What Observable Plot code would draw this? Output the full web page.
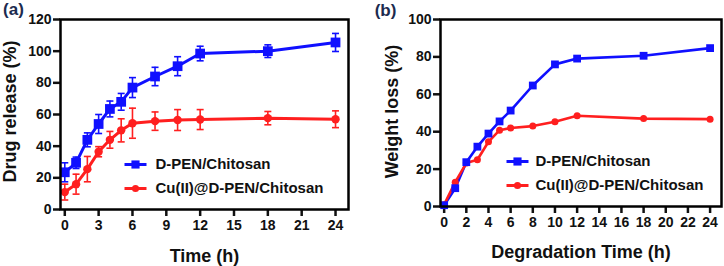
<!DOCTYPE html>
<html><head><meta charset="utf-8">
<script src="https://cdn.jsdelivr.net/npm/d3@7"></script>
<script src="https://cdn.jsdelivr.net/npm/@observablehq/plot@0.6"></script>
<style>
body{margin:0;background:#fff;}
#wrap{display:flex;width:724px;height:266px;overflow:hidden;}
#wrap svg{display:block;}
</style></head><body><div id="wrap"></div>
<script>
// ---- data ----
const time = [0, 1, 2, 3, 4, 5, 6, 8, 10, 12, 18, 24];
const seriesNames = ["D-PEN/Chitosan", "Cu(II)@D-PEN/Chitosan"];
// (a) drug release (%), mean and error
const releaseDPEN    = [23.5, 29.5, 44, 54, 63.5, 68, 77, 84, 90.5, 98.5, 100, 105.5];
const releaseDPENErr = [6, 3.6, 4.4, 6, 5, 5.3, 6.3, 5.8, 6, 4.6, 4, 5.7];
const releaseCu      = [11, 16, 25.5, 36.5, 44, 50, 54.5, 55.8, 56.5, 56.8, 57.7, 57];
const releaseCuErr   = [5, 6.3, 8, 3.2, 5.3, 7.3, 9.5, 5.8, 6.6, 6.3, 4.2, 5.3];
// (b) weight loss (%)
const lossDPEN = [0.7, 9.8, 23.7, 32, 39, 45.5, 51.3, 64.7, 76, 79.1, 80.6, 84.7];
const lossCu   = [1, 13, 23.2, 25, 34.6, 40.8, 42, 43, 45.3, 48.5, 47, 46.7];
// ticks / labels
const xTicksA = [0, 3, 6, 9, 12, 15, 18, 21, 24];
const xTicksB = [0, 2, 4, 6, 8, 10, 12, 14, 16, 18, 20, 22, 24];
const yTicksA = [0, 20, 40, 60, 80, 100, 120];
const yTicksB = [0, 20, 40, 60, 80, 100];
const titlesA = {x: "Time (h)", y: "Drug release (%)", panel: "(a)"};
const titlesB = {x: "Degradation Time (h)", y: "Weight loss (%)", panel: "(b)"};

// ---- styling ----
const BLUE = "#1010ff", RED = "#ff1f1f";
const FONT = "'Liberation Sans', Arial, Helvetica, sans-serif";
const capSym = {draw(ctx) { ctx.moveTo(-3.5, 0); ctx.lineTo(3.5, 0); }};
const legLine = {draw(ctx) { ctx.moveTo(-11, 0); ctx.lineTo(11, 0); }};

const rowsA = [
  ...time.map((t, i) => ({t, v: releaseDPEN[i], e: releaseDPENErr[i], s: seriesNames[0]})),
  ...time.map((t, i) => ({t, v: releaseCu[i], e: releaseCuErr[i], s: seriesNames[1]}))
];
const rowsB = [
  ...time.map((t, i) => ({t, v: lossDPEN[i], s: seriesNames[0]})),
  ...time.map((t, i) => ({t, v: lossCu[i], s: seriesNames[1]}))
];
const colorOf = s => s === seriesNames[0] ? BLUE : RED;

function legendMarks(lx, ly0, ly1, tx, rSq, rCi) {
  const items = [{s: seriesNames[0], dy: ly0, sym: "square", r: rSq}, {s: seriesNames[1], dy: ly1, sym: "circle", r: rCi}];
  const out = [];
  for (const it of items) {
    out.push(Plot.dot([it], {frameAnchor: "top-left", dx: lx, dy: it.dy, symbol: legLine, stroke: colorOf(it.s), strokeWidth: 3, fill: "none", r: 5}));
    out.push(Plot.dot([it], {frameAnchor: "top-left", dx: lx, dy: it.dy, symbol: it.sym, fill: colorOf(it.s), stroke: "none", r: it.r}));
    out.push(Plot.text([it], {frameAnchor: "top-left", dx: tx, dy: it.dy, text: "s", textAnchor: "start", lineAnchor: "middle", fontSize: 15, fill: "#111"}));
  }
  return out;
}

const baseStyle = {fontFamily: FONT, fontWeight: "bold", fontSize: "14px", color: "#111", background: "white", overflow: "visible"};

const plotA = Plot.plot({
  width: 362, height: 266,
  marginLeft: 60, marginRight: 14, marginTop: 19, marginBottom: 57,
  x: {domain: [-0.38, 25.15]},
  y: {domain: [0, 120]},
  style: baseStyle,
  marks: [
    Plot.axisX({ticks: xTicksA, tickSize: 7, tickPadding: 4, strokeWidth: 2.5, label: null}),
    Plot.axisY({ticks: yTicksA, tickSize: 7, tickPadding: 2, strokeWidth: 2.5, label: null}),
    Plot.ruleX(rowsA, {x: "t", y1: d => d.v - d.e, y2: d => d.v + d.e, stroke: d => colorOf(d.s), strokeWidth: 1.6}),
    Plot.dot(rowsA, {x: "t", y: d => d.v + d.e, symbol: capSym, stroke: d => colorOf(d.s), strokeWidth: 1.6, fill: "none"}),
    Plot.dot(rowsA, {x: "t", y: d => d.v - d.e, symbol: capSym, stroke: d => colorOf(d.s), strokeWidth: 1.6, fill: "none"}),
    Plot.line(rowsA, {x: "t", y: "v", z: "s", stroke: d => colorOf(d.s), strokeWidth: 3}),
    Plot.dot(rowsA.filter(d => d.s === seriesNames[0]), {x: "t", y: "v", symbol: "square", r: 5.5, fill: BLUE}),
    Plot.dot(rowsA.filter(d => d.s === seriesNames[1]), {x: "t", y: "v", symbol: "circle", r: 4.2, fill: RED}),
    Plot.frame({stroke: "#000", strokeWidth: 2.5}),
    ...legendMarks(75, 145, 169, 95, 4.6, 3.6),
    Plot.text([titlesA.x], {text: d => d, frameAnchor: "bottom", dy: 47, fontSize: 18, lineAnchor: "middle", textAnchor: "middle"}),
    Plot.text([titlesA.y], {text: d => d, frameAnchor: "left", dx: -50, dy: -3, rotate: -90, fontSize: 18, lineAnchor: "middle", textAnchor: "middle"}),
    Plot.text([titlesA.panel], {text: d => d, frameAnchor: "top-left", dx: -47, dy: -10, fontSize: 17, lineAnchor: "middle", textAnchor: "middle", fill: "#1c2b4f"})
  ]
});

const plotB = Plot.plot({
  width: 362, height: 266,
  marginLeft: 78, marginRight: 3, marginTop: 19, marginBottom: 60,
  x: {domain: [-0.33, 25.03]},
  y: {domain: [0, 100]},
  style: baseStyle,
  marks: [
    Plot.axisX({ticks: xTicksB, tickSize: 7, tickPadding: 4, strokeWidth: 2.5, label: null}),
    Plot.axisY({ticks: yTicksB, tickSize: 7, tickPadding: 2, strokeWidth: 2.5, label: null}),
    Plot.line(rowsB, {x: "t", y: "v", z: "s", stroke: d => colorOf(d.s), strokeWidth: 2.6}),
    Plot.dot(rowsB.filter(d => d.s === seriesNames[1]), {x: "t", y: "v", symbol: "circle", r: 3.5, fill: RED}),
    Plot.dot(rowsB.filter(d => d.s === seriesNames[0]), {x: "t", y: "v", symbol: "square", r: 4.4, fill: BLUE}),
    Plot.frame({stroke: "#000", strokeWidth: 2.5}),
    ...legendMarks(77, 142, 166, 95, 4.6, 3.6),
    Plot.text([titlesB.x], {text: d => d, frameAnchor: "bottom", dy: 46, fontSize: 18, lineAnchor: "middle", textAnchor: "middle"}),
    Plot.text([titlesB.y], {text: d => d, frameAnchor: "left", dx: -48, dy: -1.5, rotate: -90, fontSize: 18, lineAnchor: "middle", textAnchor: "middle"}),
    Plot.text([titlesB.panel], {text: d => d, frameAnchor: "top-left", dx: -55, dy: -9, fontSize: 17, lineAnchor: "middle", textAnchor: "middle", fill: "#1c2b4f"})
  ]
});

document.getElementById("wrap").append(plotA, plotB);
</script>
</body></html>
